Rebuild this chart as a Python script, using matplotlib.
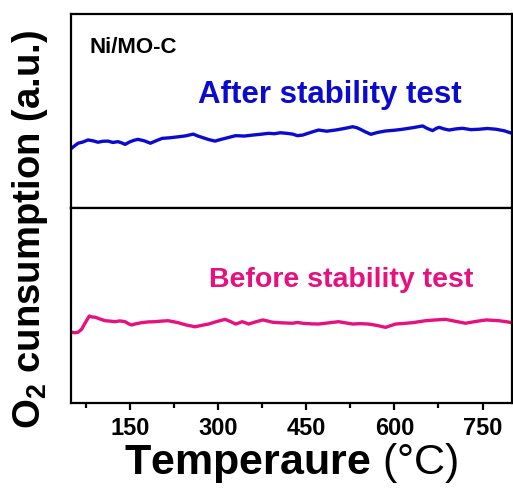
import matplotlib
matplotlib.use("Agg")
import matplotlib.pyplot as plt
from matplotlib.ticker import MultipleLocator

plt.rcParams["font.family"] = ["Liberation Sans", "DejaVu Sans"]
plt.rcParams["mathtext.fontset"] = "custom"
plt.rcParams["mathtext.rm"] = "Liberation Sans"
plt.rcParams["mathtext.bf"] = "Liberation Sans:bold"
plt.rcParams["mathtext.default"] = "regular"

# after stability test (upper panel, a.u.)
after_temp = [51, 55, 62, 70, 79, 88, 96, 104, 113, 121, 130, 136, 142, 150, 157, 164,
              175, 185, 195, 205, 218, 232, 245, 258, 265, 273, 284, 295, 303, 312,
              321, 330, 345, 359, 372, 386, 396, 406, 417, 427, 435, 444, 458, 471,
              485, 500, 515, 529, 536, 542, 551, 560, 572, 585, 600, 614, 631, 648,
              656, 665, 671, 676, 684, 693, 705, 716, 730, 744, 758, 773, 787, 800]
after_sig = [0.308, 0.318, 0.334, 0.340, 0.351, 0.346, 0.339, 0.344, 0.345, 0.338,
             0.342, 0.336, 0.328, 0.341, 0.349, 0.354, 0.346, 0.334, 0.347, 0.359,
             0.362, 0.367, 0.372, 0.381, 0.372, 0.364, 0.353, 0.345, 0.352, 0.359,
             0.366, 0.373, 0.371, 0.376, 0.380, 0.385, 0.383, 0.388, 0.385, 0.381,
             0.373, 0.376, 0.390, 0.402, 0.396, 0.402, 0.410, 0.419, 0.414, 0.406,
             0.392, 0.380, 0.390, 0.397, 0.401, 0.406, 0.414, 0.423, 0.410, 0.399,
             0.410, 0.416, 0.408, 0.402, 0.408, 0.411, 0.404, 0.406, 0.410, 0.406,
             0.398, 0.385]

# before stability test (lower panel, a.u.)
before_temp = [51, 57, 62, 68, 74, 81, 86, 91, 100, 108, 116, 125, 133, 142, 148, 153,
               160, 170, 182, 193, 204, 215, 224, 232, 246, 261, 272, 284, 298, 312,
               321, 330, 336, 341, 347, 352, 364, 376, 385, 393, 410, 427, 435, 444,
               458, 471, 488, 505, 517, 529, 542, 556, 570, 585, 593, 602, 616, 631,
               642, 653, 670, 687, 704, 721, 738, 756, 767, 778, 790, 800]
before_sig = [0.363, 0.360, 0.363, 0.378, 0.410, 0.446, 0.441, 0.440, 0.430, 0.422,
              0.420, 0.417, 0.421, 0.417, 0.406, 0.400, 0.406, 0.412, 0.416, 0.417,
              0.420, 0.422, 0.417, 0.412, 0.400, 0.391, 0.398, 0.405, 0.418, 0.429,
              0.418, 0.405, 0.411, 0.417, 0.411, 0.405, 0.416, 0.426, 0.420, 0.414,
              0.411, 0.409, 0.413, 0.409, 0.406, 0.405, 0.411, 0.417, 0.411, 0.405,
              0.407, 0.405, 0.398, 0.388, 0.396, 0.405, 0.408, 0.412, 0.417, 0.422,
              0.426, 0.429, 0.419, 0.409, 0.418, 0.426, 0.424, 0.422, 0.417, 0.412]

blue = "#0b0bd0"
pink = "#e6117e"

fig = plt.figure(figsize=(5.13, 4.92), dpi=100)
ax_top = fig.add_axes([0.1384, 0.5772, 0.8596, 0.3943])
ax_bot = fig.add_axes([0.1384, 0.1809, 0.8596, 0.3963], sharex=ax_top)

ax_top.plot(after_temp, after_sig, color=blue, lw=2.4)
ax_bot.plot(before_temp, before_sig, color=pink, lw=2.4)

for ax in (ax_top, ax_bot):
    ax.set_ylim(0, 1)
    ax.set_yticks([])
    for s in ax.spines.values():
        s.set_linewidth(1.6)

ax_top.set_xlim(50, 800)
ax_top.tick_params(axis="x", which="both", bottom=False, labelbottom=False)
ax_bot.xaxis.set_major_locator(MultipleLocator(150))
ax_bot.xaxis.set_minor_locator(MultipleLocator(75))
ax_bot.tick_params(axis="x", which="major", direction="out", length=5, width=1.6,
                   pad=5, labelsize=17)
ax_bot.tick_params(axis="x", which="minor", direction="out", length=3.5, width=1.6)
for lab in ax_bot.get_xticklabels():
    lab.set_fontweight("bold")

ax_top.text(0.041, 0.799, "Ni/MO-C", transform=ax_top.transAxes, fontsize=16,
            fontweight="bold", ha="left", va="baseline")
ax_top.text(0.587, 0.541, "After stability test", transform=ax_top.transAxes,
            fontsize=22.5, fontweight="bold", color=blue, ha="center", va="baseline")
ax_bot.text(0.612, 0.595, "Before stability test", transform=ax_bot.transAxes,
            fontsize=20.5, fontweight="bold", color=pink, ha="center", va="baseline")

ax_bot.set_xlabel(r"$\mathbf{Temperaure}$ (°C)", fontsize=31, labelpad=1)
fig.text(30 / 513, 1 - 230 / 492, r"O$_2$ cunsumption (a.u.)", rotation=90,
         fontsize=27.5, fontweight="bold", ha="center", va="center")

fig.savefig("out.png", dpi=100)
